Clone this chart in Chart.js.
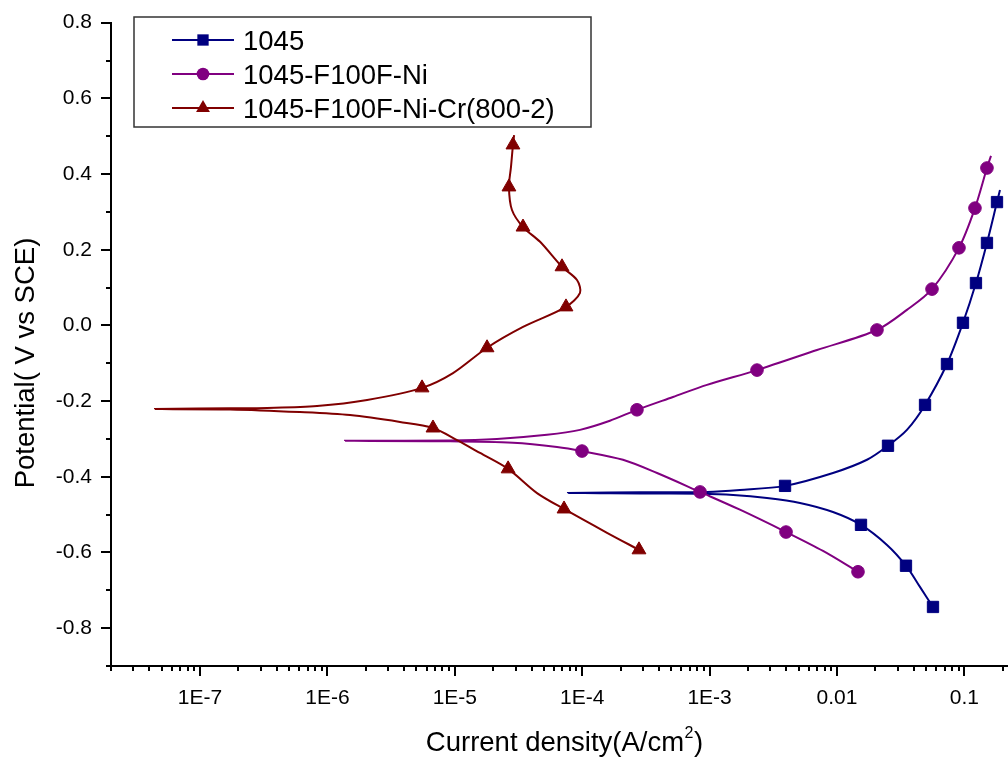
<!DOCTYPE html>
<html lang="en">
<head>
<meta charset="UTF-8">
<title>Polarization curves</title>
<script src="https://cdn.jsdelivr.net/npm/chart.js"></script>
<style>
  html, body { margin: 0; padding: 0; background: #fff; }
  #wrap { position: relative; width: 1008px; height: 758px; }
</style>
</head>
<body>
<div id="wrap"><canvas id="tafel"></canvas></div>
<script>
// legend order
const seriesNames = ['1045', '1045-F100F-Ni', '1045-F100F-Ni-Cr(800-2)'];
const seriesColors = ['#000080', '#800080', '#800000'];
const seriesMarkers = ['rect', 'circle', 'triangle'];

// 1045 : current density (A/cm2) / potential (V vs SCE), cathodic -> anodic
const current1045 = [0.0567, 0.0448, 0.0348, 0.0247, 0.01543, 0.0093, 0.00512, 0.00282, 0.00153, 0.000841,
  0.000284, 7.73e-5, 0.000284, 0.000954, 0.00173, 0.00391, 0.0093, 0.0172, 0.02514, 0.0354,
  0.0491, 0.073, 0.0975, 0.1233, 0.1504, 0.1803, 0.1903];
const potential1045 = [-0.744, -0.691, -0.635, -0.580, -0.527, -0.493, -0.469, -0.456, -0.448, -0.445,
  -0.444, -0.443, -0.441, -0.440, -0.435, -0.424, -0.390, -0.355, -0.318, -0.276,
  -0.210, -0.102, 0.007, 0.112, 0.218, 0.326, 0.358];
const markers1045 = [0, 2, 4, 15, 18, 20, 21, 22, 23, 24, 25];

// 1045-F100F-Ni
const currentNi = [0.01462, 0.00777, 0.00398, 0.00173, 0.000841, 0.000387, 0.000209, 9.96e-5, 6.34e-5, 2.86e-5,
  9.17e-6, 1.374e-6, 9.17e-6, 2.14e-5, 5.29e-5, 9.61e-5, 0.000165, 0.000269, 0.000516, 0.000954,
  0.002356, 0.00697, 0.0206, 0.0354, 0.0557, 0.0907, 0.1211, 0.1504, 0.1618];
const potentialNi = [-0.651, -0.596, -0.546, -0.487, -0.440, -0.390, -0.355, -0.332, -0.321, -0.310,
  -0.306, -0.305, -0.304, -0.300, -0.289, -0.276, -0.252, -0.223, -0.189, -0.157,
  -0.118, -0.065, -0.012, 0.041, 0.096, 0.205, 0.310, 0.416, 0.448];
const markersNi = [0, 2, 4, 7, 17, 20, 22, 24, 25, 26, 27];

// 1045-F100F-Ni-Cr(800-2)
const currentCr = [0.000279, 0.0001566, 7.20e-5, 4.42e-5, 2.62e-5, 1.577e-5, 1.041e-5, 6.74e-6, 3.71e-6, 1.505e-6,
  6.09e-7, 1.72e-7, 4.43e-8, 1.72e-7, 3.36e-7, 8.29e-7, 2.05e-6, 5.53e-6, 9.68e-6, 1.79e-5,
  3.43e-5, 7.46e-5, 9.61e-5, 9.10e-5, 6.94e-5, 4.67e-5, 3.43e-5, 2.81e-5, 2.66e-5, 2.76e-5,
  2.86e-5, 2.92e-5];
const potentialCr = [-0.593, -0.548, -0.485, -0.443, -0.379, -0.337, -0.303, -0.271, -0.255, -0.237,
  -0.229, -0.222, -0.221, -0.219, -0.218, -0.213, -0.197, -0.165, -0.126, -0.059,
  -0.004, 0.049, 0.086, 0.120, 0.155, 0.221, 0.260, 0.305, 0.366, 0.419,
  0.477, 0.503];
const markersCr = [0, 2, 4, 7, 17, 19, 21, 24, 26, 28, 30];

// axis labels
const xMajorValues = [1e-7, 1e-6, 1e-5, 1e-4, 1e-3, 0.01, 0.1];
const xTickLabels = ['1E-7', '1E-6', '1E-5', '1E-4', '1E-3', '0.01', '0.1'];
const yMajorValues = [-0.8, -0.6, -0.4, -0.2, 0.0, 0.2, 0.4, 0.6, 0.8];
const yTickLabels = ['-0.8', '-0.6', '-0.4', '-0.2', '0.0', '0.2', '0.4', '0.6', '0.8'];

const FONT = "'Liberation Sans', Arial, sans-serif";
const markerRadius = { rect: 8, circle: 6.3, triangle: 8 };

function makeSet(i, cur, pot, marks) {
  const r = markerRadius[seriesMarkers[i]];
  return {
    label: seriesNames[i],
    data: cur.map((c, k) => ({ x: c, y: pot[k] })),
    borderColor: seriesColors[i],
    backgroundColor: seriesColors[i],
    borderWidth: 2,
    tension: 0.3,
    showLine: true,
    pointStyle: seriesMarkers[i],
    pointRadius: ctx => marks.includes(ctx.dataIndex) ? r : 0,
    pointHoverRadius: ctx => marks.includes(ctx.dataIndex) ? r : 0,
    pointBorderWidth: 1,
    order: 3 - i
  };
}

function xLabel(v) {
  const i = xMajorValues.findIndex(m => Math.abs(Math.log10(m) - Math.log10(v)) < 1e-6);
  return i >= 0 ? xTickLabels[i] : '';
}
function yLabel(v) {
  const i = yMajorValues.findIndex(m => Math.abs(m - v) < 1e-6);
  return i >= 0 ? yTickLabels[i] : '';
}

// small marker shapes for the legend, same geometry as Chart.js points
function drawMarker(ctx, style, x, y, r) {
  ctx.beginPath();
  if (style === 'rect') {
    const s = r * Math.SQRT1_2;
    ctx.rect(x - s, y - s, 2 * s, 2 * s);
  } else if (style === 'circle') {
    ctx.arc(x, y, r, 0, Math.PI * 2);
  } else {
    for (let k = 0; k < 3; k++) {
      const a = -Math.PI / 2 + k * 2 * Math.PI / 3;
      const px = x + Math.cos(a) * r, py = y + Math.sin(a) * r;
      k === 0 ? ctx.moveTo(px, py) : ctx.lineTo(px, py);
    }
    ctx.closePath();
  }
  ctx.fill();
}

const decor = {
  id: 'decor',
  afterDraw(chart) {
    const { ctx, scales: { x, y } } = chart;
    ctx.save();
    // tick marks
    ctx.strokeStyle = '#000';
    ctx.lineWidth = 2;
    ctx.beginPath();
    x.ticks.forEach(t => {
      const e = Math.floor(Math.log10(t.value) + 1e-9);
      const m = t.value / Math.pow(10, e);
      if (Math.abs(m - Math.round(m)) > 1e-6) return;
      const px = Math.round(x.getPixelForValue(t.value));
      const len = Math.round(m) === 1 || Math.round(m) === 10 ? 10 : 5;
      ctx.moveTo(px, x.top);
      ctx.lineTo(px, x.top + len);
    });
    y.ticks.forEach(t => {
      const py = Math.round(y.getPixelForValue(t.value));
      const len = yLabel(t.value) ? 10 : 5;
      ctx.moveTo(y.right, py);
      ctx.lineTo(y.right - len, py);
    });
    ctx.stroke();

    // axis titles
    ctx.fillStyle = '#000';
    ctx.font = '27.5px ' + FONT;
    ctx.textBaseline = 'alphabetic';
    ctx.save();
    ctx.translate(33.5, 363);
    ctx.rotate(-Math.PI / 2);
    ctx.textAlign = 'center';
    ctx.fillText('Potential( V vs SCE)', 0, 0);
    ctx.restore();

    const t1 = 'Current density(A/cm', t3 = ')';
    const w1 = ctx.measureText(t1).width, w3 = ctx.measureText(t3).width;
    ctx.font = '16px ' + FONT;
    const w2 = ctx.measureText('2').width;
    let sx = 564 - (w1 + w2 + w3) / 2;
    ctx.textAlign = 'left';
    ctx.font = '27.5px ' + FONT;
    ctx.fillText(t1, sx, 751);
    ctx.font = '16px ' + FONT;
    ctx.fillText('2', sx + w1 + 0.5, 738);
    ctx.font = '27.5px ' + FONT;
    ctx.fillText(t3, sx + w1 + w2 + 1, 751);

    // legend
    ctx.lineWidth = 1.5;
    ctx.strokeStyle = '#333';
    ctx.strokeRect(134, 17, 457, 110);
    const rows = [40, 74, 108];
    seriesNames.forEach((name, i) => {
      const ry = rows[i];
      ctx.strokeStyle = seriesColors[i];
      ctx.fillStyle = seriesColors[i];
      ctx.lineWidth = 2;
      ctx.beginPath();
      ctx.moveTo(172, ry);
      ctx.lineTo(234, ry);
      ctx.stroke();
      drawMarker(ctx, seriesMarkers[i], 203, ry, markerRadius[seriesMarkers[i]]);
      ctx.fillStyle = '#000';
      ctx.font = '27.5px ' + FONT;
      ctx.fillText(name, 243, ry + 9.8);
    });
    ctx.restore();
  }
};

new Chart(document.getElementById('tafel'), {
  type: 'scatter',
  data: {
    datasets: [
      makeSet(0, current1045, potential1045, markers1045),
      makeSet(1, currentNi, potentialNi, markersNi),
      makeSet(2, currentCr, potentialCr, markersCr)
    ]
  },
  options: {
    responsive: true,
    maintainAspectRatio: false,
    animation: false,
    layout: { autoPadding: false, padding: { top: 22.7, right: 0, left: 0, bottom: 0 } },
    plugins: { legend: { display: false }, tooltip: { enabled: false } },
    scales: {
      x: {
        type: 'logarithmic',
        min: 2e-8,
        max: 0.22,
        grid: { display: false, drawTicks: false },
        border: { display: true, color: '#000', width: 2 },
        ticks: {
          autoSkip: false,
          maxRotation: 0,
          padding: 20,
          color: '#000',
          font: { family: FONT, size: 21 },
          callback: v => xLabel(v)
        },
        afterFit: s => { s.height = 92; s.paddingLeft = 0; s.paddingRight = 0; }
      },
      y: {
        min: -0.9,
        max: 0.8,
        grid: { display: false, drawTicks: false },
        border: { display: true, color: '#000', width: 2 },
        ticks: {
          stepSize: 0.1,
          autoSkip: false,
          padding: 19,
          color: '#000',
          font: { family: FONT, size: 21 },
          callback: v => yLabel(v)
        },
        afterFit: s => { s.width = 111; s.paddingTop = 0; s.paddingBottom = 0; }
      }
    }
  },
  plugins: [decor]
});
</script>
</body>
</html>
